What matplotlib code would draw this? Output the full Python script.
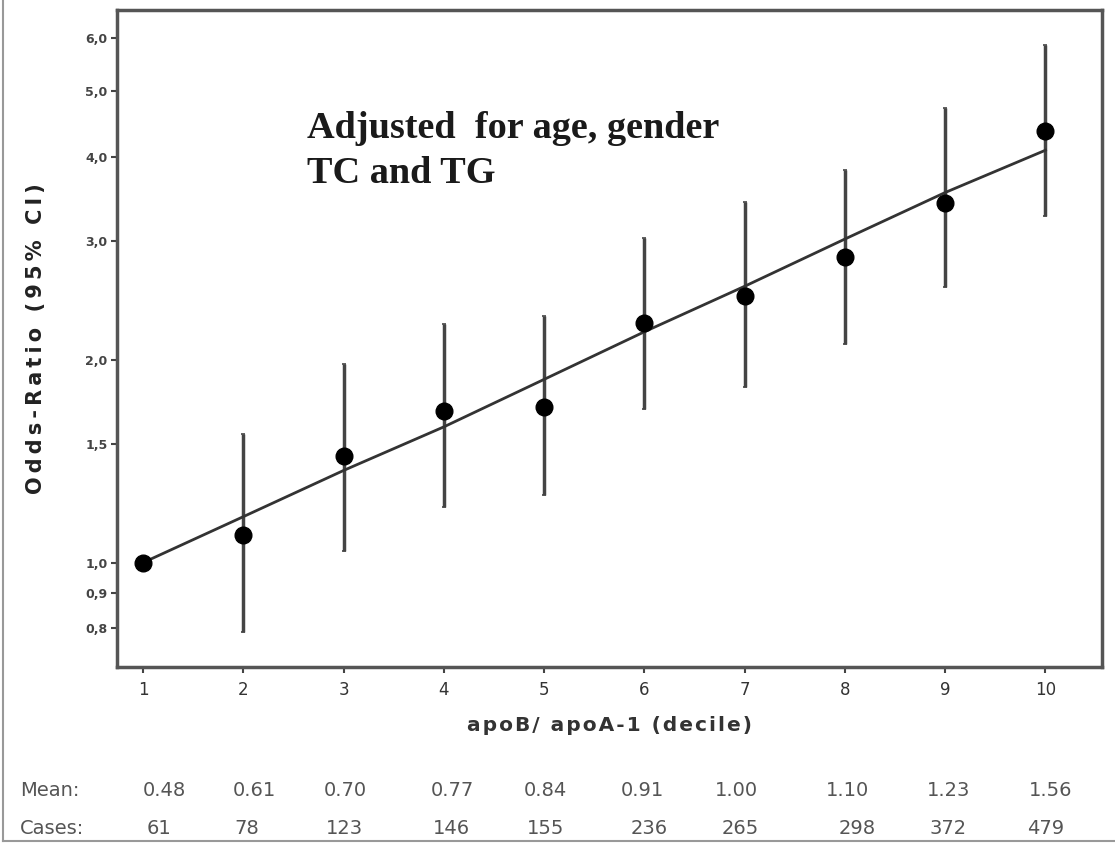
import matplotlib
matplotlib.use("Agg")
import matplotlib.pyplot as plt
import matplotlib.transforms as mtransforms
from matplotlib.lines import Line2D
from matplotlib.ticker import FixedLocator, NullLocator

# ---- data ----
deciles = [1, 2, 3, 4, 5, 6, 7, 8, 9, 10]
odds_ratio = [1.00, 1.10, 1.44, 1.68, 1.70, 2.27, 2.49, 2.84, 3.41, 4.37]
ci_lower = [1.00, 0.79, 1.04, 1.21, 1.26, 1.69, 1.82, 2.11, 2.56, 3.27]
ci_upper = [1.00, 1.55, 1.97, 2.26, 2.32, 3.03, 3.43, 3.82, 4.73, 5.86]
trend = [1.00, 1.17, 1.37, 1.59, 1.87, 2.20, 2.57, 3.02, 3.54, 4.09]
y_ticks = [0.8, 0.9, 1.0, 1.5, 2.0, 3.0, 4.0, 5.0, 6.0]
y_tick_labels = ["0,8", "0,9", "1,0", "1,5", "2,0", "3,0", "4,0", "5,0", "6,0"]
mean_ratio = ["0.48", "0.61", "0.70", "0.77", "0.84", "0.91", "1.00", "1.10", "1.23", "1.56"]
cases = ["61", "78", "123", "146", "155", "236", "265", "298", "372", "479"]

# layout: horizontal pixel offsets of the table texts relative to each decile
mean_dx_px = [21, 11, 2, 8, 1, -2, -8, 3, 3, 5]
cases_dx_px = [16, 3, 1, 8, 1, 5, -4, 12, 3, 0]


def spaced(s, sep="\u2009"):
    return sep.join(s)


fig = plt.figure(figsize=(11.15, 8.44), dpi=100)
ax = fig.add_axes([0.105, 0.2097, 0.883, 0.7783])

ax.set_yscale("log")
ax.set_xlim(0.74, 10.56)
ax.set_ylim(0.70, 6.6)

# trend line
ax.plot(deciles, trend, color="#333333", lw=2.0, zorder=2)

# error bars
err_lo = [o - l for o, l in zip(odds_ratio, ci_lower)]
err_hi = [u - o for o, u in zip(odds_ratio, ci_upper)]
ax.errorbar(deciles, odds_ratio, yerr=[err_lo, err_hi], fmt="none",
            ecolor="#444444", elinewidth=2.5, capsize=1.5, capthick=1.2, zorder=1)
ax.plot(deciles, odds_ratio, "o", color="black", ms=12, zorder=3)

# ticks
ax.yaxis.set_major_locator(FixedLocator(y_ticks))
ax.yaxis.set_minor_locator(NullLocator())
ax.set_yticks(y_ticks)
ax.set_yticklabels(y_tick_labels, fontsize=9, color="#444444", fontweight="bold")
ax.set_xticks(deciles)
ax.set_xticklabels([str(d) for d in deciles], fontsize=12, color="#333333")
ax.tick_params(axis="both", direction="out", length=4, width=1.5, color="#444444")
ax.tick_params(axis="y", pad=3)
ax.tick_params(axis="x", pad=6)

for s in ax.spines.values():
    s.set_color("#555555")
    s.set_linewidth(2.5)

ax.set_xlabel(spaced("apoB/ apoA-1 (decile)", "\u200a"), fontsize=14.5, fontweight="bold",
              color="#333333", labelpad=12)
ax.set_ylabel(spaced("Odds-Ratio (95% CI)"), fontsize=15, fontweight="bold",
              color="#222222", labelpad=28)

ax.text(0.193, 0.847, "Adjusted  for age, gender\nTC and TG", transform=ax.transAxes,
        family="Liberation Serif", fontweight="bold", fontsize=27.5,
        color="#1a1a1a", va="top", ha="left", linespacing=1.38)

# Mean / Cases rows
trans = mtransforms.blended_transform_factory(ax.transData, fig.transFigure)
fig.text(0.018, 1 - 790 / 844, "Mean:", fontsize=14, color="#555555", va="center", ha="left")
fig.text(0.018, 1 - 828 / 844, "Cases:", fontsize=14, color="#555555", va="center", ha="left")
for d, m, c, dm, dc in zip(deciles, mean_ratio, cases, mean_dx_px, cases_dx_px):
    tm = trans + mtransforms.ScaledTranslation(dm / 100, 0, fig.dpi_scale_trans)
    tc = trans + mtransforms.ScaledTranslation(dc / 100, 0, fig.dpi_scale_trans)
    ax.text(d, 1 - 790 / 844, m, transform=tm, fontsize=14, color="#555555",
            ha="center", va="center", clip_on=False)
    ax.text(d, 1 - 828 / 844, c, transform=tc, fontsize=14, color="#555555",
            ha="center", va="center", clip_on=False)

# outer border (left and bottom)
fig.add_artist(Line2D([0.003, 0.003], [0.003, 1.0], transform=fig.transFigure,
                      color="#999999", lw=1.5))
fig.add_artist(Line2D([0.003, 1.0], [0.003, 0.003], transform=fig.transFigure,
                      color="#999999", lw=1.5))

fig.savefig("out.png", dpi=100)
